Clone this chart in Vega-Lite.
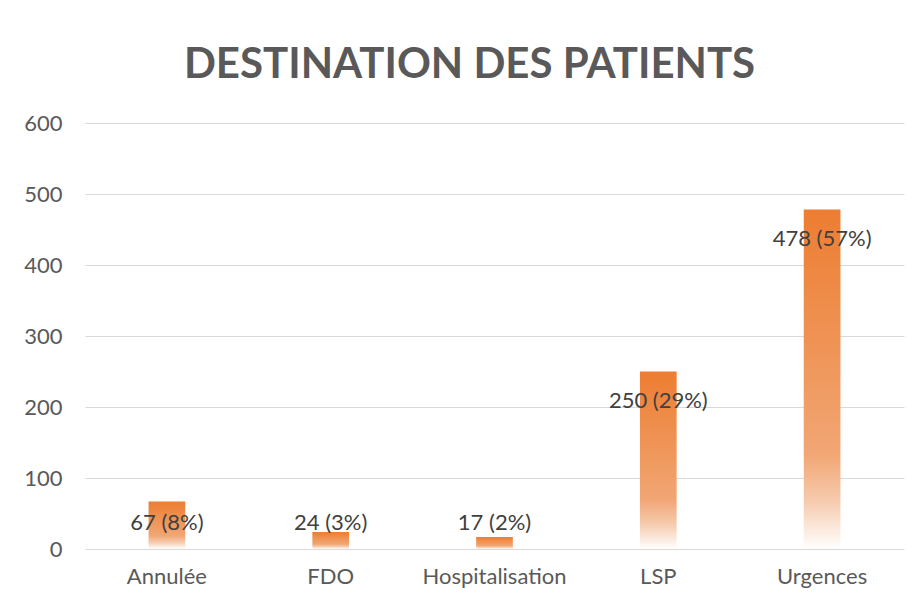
{
  "$schema": "https://vega.github.io/schema/vega-lite/v6.json",
  "width": 819,
  "height": 426,
  "autosize": {"type": "none"},
  "padding": {"left": 85, "top": 123, "right": 11, "bottom": 56},
  "background": "white",
  "title": {
    "text": "DESTINATION DES PATIENTS",
    "font": "Lato",
    "fontSize": 42,
    "fontWeight": "bold",
    "color": "#595959",
    "anchor": "middle",
    "dx": -25,
    "dy": 16,
    "offset": 8,
    "baseline": "alphabetic"
  },
  "data": {
    "values": [
      {"destination": "Annulée", "value": 67, "label": "67 (8%)"},
      {"destination": "FDO", "value": 24, "label": "24 (3%)"},
      {"destination": "Hospitalisation", "value": 17, "label": "17 (2%)"},
      {"destination": "LSP", "value": 250, "label": "250 (29%)"},
      {"destination": "Urgences", "value": 478, "label": "478 (57%)"}
    ]
  },
  "transform": [{"calculate": "max(datum.value - 41, 36)", "as": "labelPos"}],
  "encoding": {
    "x": {
      "field": "destination",
      "type": "nominal",
      "sort": null,
      "scale": {"paddingInner": 0.776, "paddingOuter": 0.388},
      "axis": {
        "title": null,
        "labelAngle": 0,
        "ticks": false,
        "domain": false,
        "labelPadding": 17,
        "labelFont": "Lato",
        "labelFontSize": 22,
        "labelColor": "#595959"
      }
    }
  },
  "layer": [
    {
      "mark": {
        "type": "bar",
        "color": {
          "gradient": "linear",
          "x1": 0, "y1": 0, "x2": 0, "y2": 1,
          "stops": [
            {"offset": 0, "color": "#ED7D31"},
            {"offset": 0.72, "color": "#F1A674"},
            {"offset": 0.86, "color": "#F6CBAE"},
            {"offset": 1, "color": "#FFFFFF"}
          ]
        }
      },
      "encoding": {
        "y": {
          "field": "value",
          "type": "quantitative",
          "scale": {"domain": [0, 600]},
          "axis": {
            "title": null,
            "values": [0, 100, 200, 300, 400, 500, 600],
            "ticks": false,
            "domain": false,
            "labelPadding": 23,
            "labelFont": "Lato",
            "labelFontSize": 22,
            "labelColor": "#595959",
            "gridColor": "#D9D9D9",
            "gridWidth": 1
          }
        }
      }
    },
    {
      "mark": {"type": "text", "font": "Lato", "fontSize": 22, "color": "#404040", "baseline": "middle"},
      "encoding": {
        "y": {"field": "labelPos", "type": "quantitative", "title": null},
        "text": {"field": "label"}
      }
    }
  ],
  "config": {"view": {"stroke": null}}
}
